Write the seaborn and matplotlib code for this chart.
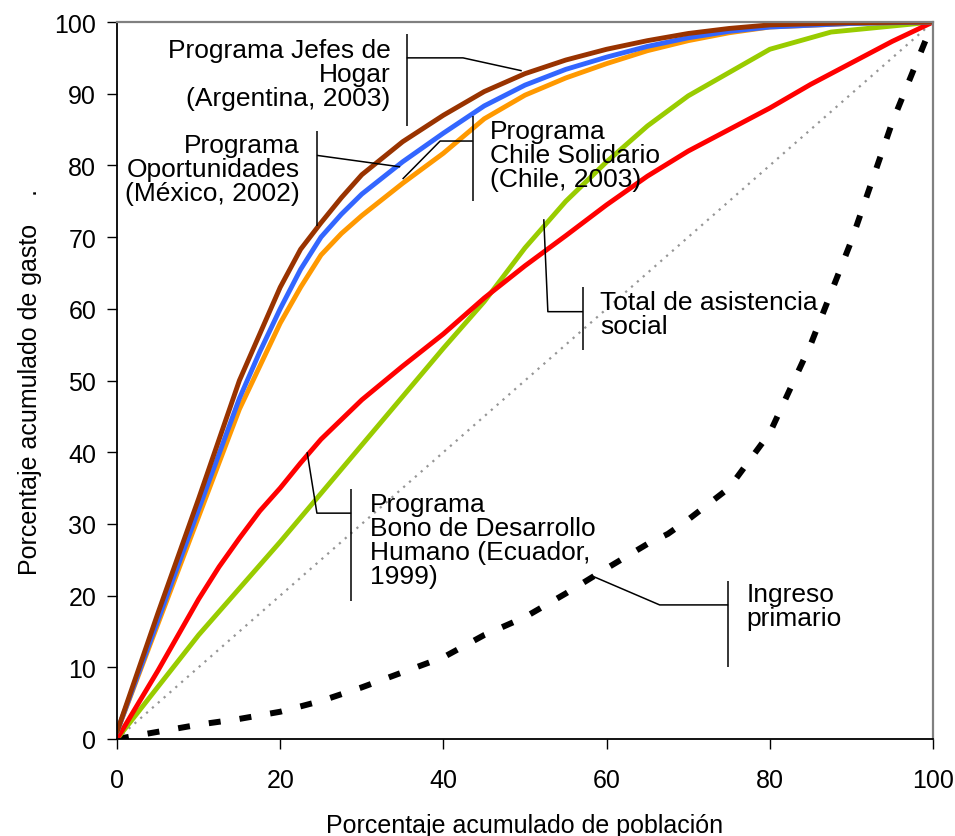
import matplotlib
matplotlib.use("Agg")
import matplotlib.pyplot as plt
import seaborn as sns

# ------------------------------------------------------------
# Data: concentration curves (cumulative % of spending vs population)
# ------------------------------------------------------------
jefes_x = [0, 5, 10, 15, 17.5, 20, 22.5, 25, 27.5, 30, 35, 40, 45, 50, 55, 60, 65, 70, 75, 80, 90, 100]
jefes_y = [1, 17.5, 33.5, 50, 56.5, 63, 68.3, 72, 75.5, 78.7, 83.3, 87, 90.3, 92.8, 94.7, 96.2, 97.4, 98.4, 99.1, 99.6, 99.9, 100]

oport_x = [0, 5, 10, 15, 17.5, 20, 22.5, 25, 27.5, 30, 35, 40, 45, 50, 55, 60, 65, 70, 75, 80, 90, 100]
oport_y = [1, 16.5, 32, 47.5, 54, 60, 65.5, 70, 73.2, 76, 80.5, 84.5, 88.3, 91.2, 93.4, 95.1, 96.6, 97.8, 98.7, 99.3, 99.8, 100]

chile_x = [0, 5, 10, 15, 17.5, 20, 22.5, 25, 27.5, 30, 35, 40, 45, 50, 55, 60, 65, 70, 75, 80, 90, 100]
chile_y = [1, 16, 31, 46, 52, 58, 63, 67.5, 70.5, 73, 77.5, 81.7, 86.5, 89.8, 92.2, 94.2, 96, 97.4, 98.5, 99.3, 99.8, 100]

total_x = [0, 10, 20, 30, 40, 45, 50, 55, 60, 65, 70, 80, 87.5, 100]
total_y = [0, 14.5, 27.5, 41, 54.5, 61, 68.5, 75, 80.5, 85.5, 89.7, 96.2, 98.6, 100]

bono_x = [0, 5, 10, 12.5, 15, 17.5, 20, 22.5, 25, 30, 35, 40, 45, 50, 55, 60, 65, 70, 75, 80, 85, 90, 95, 100]
bono_y = [0, 9.5, 19.5, 24, 28, 31.8, 35, 38.5, 41.8, 47.3, 52, 56.5, 61.5, 66, 70.2, 74.5, 78.5, 82, 85, 88, 91.3, 94.3, 97.3, 100]

igualdad_x = [0, 100]
igualdad_y = [0, 100]

ingreso_x = [0, 5, 10, 15, 20, 25, 30, 35, 40, 45, 50, 55, 60, 65, 67.5, 70, 75, 80, 85, 90, 95, 100]
ingreso_y = [0, 1, 2, 2.8, 3.8, 5.3, 7.2, 9.3, 11.4, 14.5, 17, 20.3, 23.8, 27.2, 28.6, 30.6, 35, 42.7, 55, 69.5, 86, 100]

xticks = [0, 20, 40, 60, 80, 100]
yticks = [0, 10, 20, 30, 40, 50, 60, 70, 80, 90, 100]

sns.set_theme(style="white")
plt.rcParams["font.family"] = ["Liberation Sans", "DejaVu Sans"]

fig = plt.figure(figsize=(9.55, 8.37), dpi=100)
ax = fig.add_axes([0.1225, 0.1159, 0.8545, 0.8566])

# reference lines first, programmes on top
sns.lineplot(x=igualdad_x, y=igualdad_y, ax=ax, color="#969696", linewidth=1.6,
             linestyle=(0, (1, 2.5)))
sns.lineplot(x=ingreso_x, y=ingreso_y, ax=ax, color="black", linewidth=4.3,
             linestyle=(0, (2, 3.2)))
sns.lineplot(x=total_x, y=total_y, ax=ax, color="#99CC00", linewidth=3.5)
sns.lineplot(x=bono_x, y=bono_y, ax=ax, color="#FF0000", linewidth=3.5)
sns.lineplot(x=chile_x, y=chile_y, ax=ax, color="#FF9900", linewidth=3.5)
sns.lineplot(x=oport_x, y=oport_y, ax=ax, color="#3366FF", linewidth=3.5)
sns.lineplot(x=jefes_x, y=jefes_y, ax=ax, color="#993300", linewidth=3.5)

ax.set_xlim(0, 100)
ax.set_ylim(0, 100)
ax.set_xticks(xticks)
ax.set_yticks(yticks)
ax.tick_params(axis="both", which="major", labelsize=18, direction="out",
               length=7, width=1, color="black", labelcolor="black")
ax.tick_params(axis="x", pad=14, bottom=True)
ax.tick_params(axis="y", pad=8, left=True)

for side in ["left", "bottom"]:
    ax.spines[side].set_color("black")
    ax.spines[side].set_linewidth(1.3)
for side in ["top", "right"]:
    ax.spines[side].set_color("#808080")
    ax.spines[side].set_linewidth(1.6)

ax.set_xlabel("Porcentaje acumulado de población", fontsize=18, color="black", labelpad=15)
ax.set_ylabel("Porcentaje acumulado de gasto    .", fontsize=18, color="black", labelpad=9)

# ------------------------------------------------------------
# Callouts: label text + bracket leader to the curve
# ------------------------------------------------------------
lead = dict(color="black", linewidth=1.1, solid_capstyle="butt")
txt = dict(fontsize=19, color="black", linespacing=1.0, va="center")

ax.text(33.5, 92.8, "Programa Jefes de\nHogar\n(Argentina, 2003)", ha="right", multialignment="right", **txt)
ax.plot([35.5, 35.5], [85.5, 98.3], **lead)
ax.plot([35.5, 42.4, 49.6], [95.0, 95.0, 93.2], **lead)

ax.text(22.4, 79.5, "Programa\nOportunidades\n(México, 2002)", ha="right", multialignment="right", **txt)
ax.plot([24.5, 24.5], [71.5, 84.8], **lead)
ax.plot([24.5, 34.7], [81.4, 79.8], **lead)

ax.text(45.7, 81.5, "Programa\nChile Solidario\n(Chile, 2003)", ha="left", **txt)
ax.plot([43.6, 43.6], [75.0, 86.9], **lead)
ax.plot([43.6, 39.6, 35.0], [83.4, 83.4, 78.1], **lead)

ax.text(59.2, 59.3, "Total de asistencia\nsocial", ha="left", **txt)
ax.plot([57.1, 57.1], [54.3, 63.0], **lead)
ax.plot([57.1, 52.8, 52.3], [59.6, 59.6, 72.5], **lead)

ax.text(31.0, 27.7, "Programa\nBono de Desarrollo\nHumano (Ecuador,\n1999)", ha="left", **txt)
ax.plot([28.7, 28.7], [19.2, 34.9], **lead)
ax.plot([28.7, 24.5, 23.3], [31.5, 31.5, 40.0], **lead)

ax.text(77.1, 18.5, "Ingreso\nprimario", ha="left", **txt)
ax.plot([74.9, 74.9], [10.0, 22.0], **lead)
ax.plot([74.9, 66.5, 58.3], [18.7, 18.7, 22.7], **lead)

fig.savefig("out.png", dpi=100)
